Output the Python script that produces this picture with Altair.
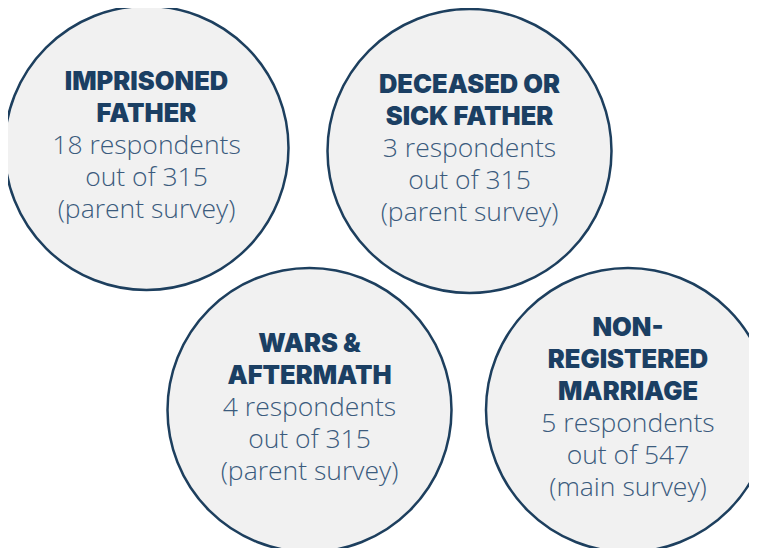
import altair as alt
import pandas as pd

# --- data ---
titles = [["IMPRISONED", "FATHER"],
          ["DECEASED OR", "SICK FATHER"],
          ["WARS &", "AFTERMATH"],
          ["NON-", "REGISTERED", "MARRIAGE"]]
respondents = [18, 3, 4, 5]
totals = [315, 315, 315, 547]
surveys = ["parent survey", "parent survey", "parent survey", "main survey"]

# --- layout (page pixel coordinates) ---
cx = [146.5, 469.5, 309.5, 628]
cy = [148, 151, 410, 410]
radius = 142
line_gap = 32
W, H = 741, 540

circles = pd.DataFrame({"x": cx, "y": cy})

rows = []
for i in range(4):
    nt = len(titles[i])
    n = nt + 3
    body = [f"{respondents[i]} respondents", f"out of {totals[i]}", f"({surveys[i]})"]
    top = cy[i] - (n - 1) / 2 * line_gap - 4
    # y is the first line of each text block
    rows.append({"x": cx[i], "y": top + 2, "text": "\n".join(titles[i]), "kind": "title"})
    rows.append({"x": cx[i], "y": top + nt * line_gap + 2,
                 "text": "\n".join(body), "kind": "body"})
texts = pd.DataFrame(rows)

xs = alt.Scale(domain=[8, 8 + W], range=[0, W])
ys = alt.Scale(domain=[8, 8 + H], range=[0, H])

base_c = alt.Chart(circles).mark_point(
    shape="circle", fill="#f1f1f1", stroke="#1d3f5e", strokeWidth=2.5,
    opacity=1, fillOpacity=1, clip=False
).encode(
    x=alt.X("x:Q", scale=xs, axis=None),
    y=alt.Y("y:Q", scale=ys, axis=None),
    size=alt.value((2 * radius) ** 2),
)

title_t = alt.Chart(texts).transform_filter(alt.datum.kind == "title").mark_text(
    font="Inter", fontWeight=900, fontSize=25.5, color="#1b3f63", baseline="middle",
    align="center", lineBreak="\n", lineHeight=line_gap
).encode(
    x=alt.X("x:Q", scale=xs, axis=None),
    y=alt.Y("y:Q", scale=ys, axis=None),
    text="text:N",
)

body_t = alt.Chart(texts).transform_filter(alt.datum.kind == "body").mark_text(
    font="Open Sans", fontWeight=300, fontSize=26.5, color="#3b5b7d", baseline="middle",
    align="center", lineBreak="\n", lineHeight=line_gap
).encode(
    x=alt.X("x:Q", scale=xs, axis=None),
    y=alt.Y("y:Q", scale=ys, axis=None),
    text="text:N",
)

chart = alt.layer(base_c, title_t, body_t).properties(
    width=W, height=H, padding=0, autosize="none", background="white"
).configure_view(stroke=None)

chart.save("out.html", embed_options={"renderer": "svg", "actions": False})
